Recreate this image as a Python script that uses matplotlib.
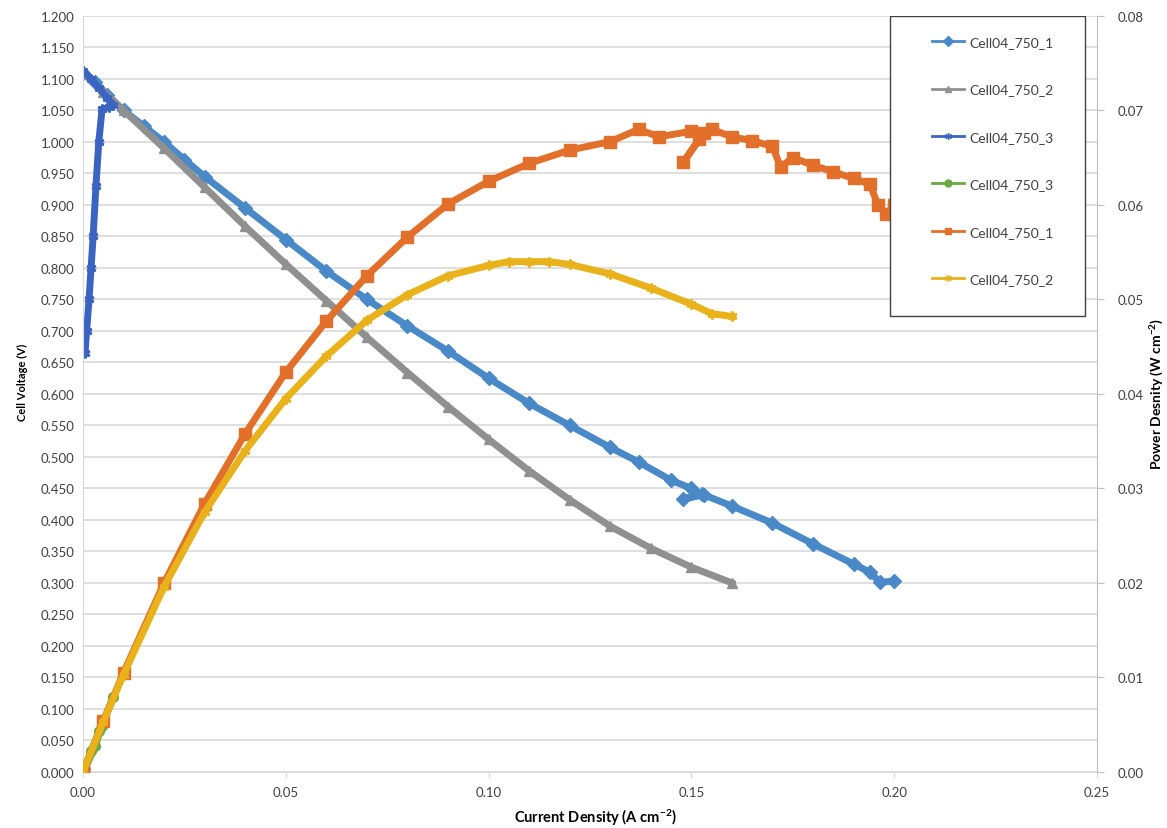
import numpy as np
import matplotlib
matplotlib.use("Agg")
import matplotlib.pyplot as plt
from matplotlib.patches import Rectangle

plt.rcParams['font.family'] = ['Lato', 'DejaVu Sans']
plt.rcParams['mathtext.default'] = 'regular'

# Cell04_750_1 polarisation curve (A cm-2, V)
j1 = [0.000, 0.003, 0.006, 0.010, 0.015, 0.020, 0.025, 0.030, 0.040, 0.050,
      0.060, 0.070, 0.080, 0.090, 0.100, 0.110, 0.120, 0.130, 0.137, 0.145,
      0.150, 0.1525, 0.148, 0.153, 0.160, 0.170, 0.180, 0.190, 0.194, 0.1965, 0.200]
v1 = [1.110, 1.095, 1.075, 1.050, 1.025, 1.000, 0.972, 0.945, 0.895, 0.845,
      0.795, 0.750, 0.708, 0.668, 0.625, 0.585, 0.550, 0.515, 0.492, 0.463,
      0.450, 0.441, 0.433, 0.440, 0.422, 0.395, 0.362, 0.330, 0.317, 0.301, 0.303]

# Cell04_750_2 polarisation curve
j2 = [0.000, 0.005, 0.010, 0.020, 0.030, 0.040, 0.050, 0.060, 0.070, 0.080,
      0.090, 0.100, 0.110, 0.120, 0.130, 0.140, 0.150, 0.160]
v2 = [1.110, 1.080, 1.050, 0.990, 0.928, 0.866, 0.806, 0.748, 0.690, 0.634,
      0.580, 0.528, 0.478, 0.432, 0.390, 0.355, 0.325, 0.300]

# Cell04_750_3 polarisation curve
j3 = [0.0000, 0.0020, 0.0040, 0.0060, 0.0075, 0.0065, 0.0047, 0.0039, 0.0032,
      0.0025, 0.0020, 0.0015, 0.0009, 0.0005]
v3 = [1.112, 1.100, 1.085, 1.070, 1.058, 1.055, 1.052, 1.000, 0.930,
      0.850, 0.800, 0.750, 0.700, 0.665]

# power density curves (A cm-2, W cm-2)
jp3 = [0.0, 0.002, 0.004, 0.0075, 0.0047, 0.0030, 0.0005]
p3 = [0.0, 0.0022, 0.0043, 0.0079, 0.0049, 0.0027, 0.0003]

jp1 = [0.000, 0.005, 0.010, 0.020, 0.030, 0.040, 0.050, 0.060, 0.070, 0.080,
       0.090, 0.100, 0.110, 0.120, 0.130, 0.137, 0.142, 0.150, 0.152, 0.148,
       0.153, 0.155, 0.160, 0.165, 0.170, 0.172, 0.175, 0.180, 0.185, 0.190,
       0.194, 0.196, 0.198, 0.200]
p1 = [0.000, 0.0054, 0.0105, 0.0200, 0.0284, 0.0358, 0.0423, 0.0477, 0.0525, 0.0566,
      0.0601, 0.0625, 0.0644, 0.0658, 0.0667, 0.0680, 0.0672, 0.0678, 0.0670, 0.0645,
      0.0676, 0.0680, 0.0672, 0.0668, 0.0662, 0.0640, 0.0650, 0.0642, 0.0635, 0.0628,
      0.0622, 0.0600, 0.0590, 0.0600]

jp2 = [0.000, 0.005, 0.010, 0.020, 0.030, 0.040, 0.050, 0.060, 0.070, 0.080,
       0.090, 0.100, 0.105, 0.110, 0.115, 0.120, 0.130, 0.140, 0.150, 0.155, 0.160]
p2 = [0.000, 0.0053, 0.0103, 0.0196, 0.0275, 0.0340, 0.0395, 0.0440, 0.0478, 0.0505,
      0.0525, 0.0536, 0.0540, 0.0540, 0.0540, 0.0537, 0.0527, 0.0512, 0.0495, 0.0485, 0.0482]

labels = ["Cell04_750_1", "Cell04_750_2", "Cell04_750_3",
          "Cell04_750_3", "Cell04_750_1", "Cell04_750_2"]

c_blue = '#4a89c8'
c_gray = '#909090'
c_dblue = '#3b63c2'
c_green = '#6aaa40'
c_orange = '#e2702a'
c_yellow = '#e9b21a'
grid_c = '#d9d9d9'
text_c = '#404040'
star = (6, 2, 0)

fig = plt.figure(figsize=(11.67, 8.29), dpi=100)
ax = fig.add_axes([0.0711, 0.0676, 0.8689, 0.912])
ax2 = ax.twinx()

kw = dict(lw=5, ms=7)
h1, = ax.plot(j1, v1, color=c_blue, marker='D', label=labels[0], **kw)
h2, = ax.plot(j2, v2, color=c_gray, marker='^', label=labels[1], **kw)
h3, = ax.plot(j3, v3, color=c_dblue, marker=star, mew=2, label=labels[2], **kw)
h4, = ax2.plot(jp3, p3, color=c_green, marker='o', label=labels[3], **kw)
h5, = ax2.plot(jp1, p1, color=c_orange, marker='s', label=labels[4], lw=5, ms=8)
h6, = ax2.plot(jp2, p2, color=c_yellow, marker=star, mew=2, label=labels[5], **kw)

ax.set_xlim(0, 0.25)
ax.set_ylim(0, 1.2)
ax2.set_ylim(0, 0.08)
ax.set_xticks(np.arange(0, 0.2501, 0.05))
ax.set_yticks(np.arange(0, 1.2001, 0.05))
ax2.set_yticks(np.arange(0, 0.0801, 0.01))
ax.xaxis.set_major_formatter(matplotlib.ticker.FormatStrFormatter('%.2f'))
ax.yaxis.set_major_formatter(matplotlib.ticker.FormatStrFormatter('%.3f'))
ax2.yaxis.set_major_formatter(matplotlib.ticker.FormatStrFormatter('%.2f'))

ax.grid(axis='y', color=grid_c, lw=1.2)
ax.set_axisbelow(True)
for a in (ax, ax2):
    for s in a.spines.values():
        s.set_visible(False)
ax.spines['left'].set_visible(True)
ax.spines['left'].set_color(grid_c)
ax.spines['bottom'].set_visible(True)
ax.spines['bottom'].set_color(grid_c)
ax2.spines['right'].set_visible(True)
ax2.spines['right'].set_color('#bfbfbf')

ax.tick_params(axis='y', length=0, labelsize=9.5, labelcolor=text_c, pad=6)
ax.tick_params(axis='x', length=4, color=grid_c, labelsize=9.5, labelcolor=text_c, pad=6)
ax2.tick_params(axis='y', length=5, color='#bfbfbf', labelsize=9.5, labelcolor=text_c, pad=10)

ax.set_xlabel('Current Density (A cm$^{-2}$)', fontsize=10.5, fontweight='bold', va='center')
ax.set_ylabel('Cell Voltage (V)', fontsize=8, fontweight='bold', va='center')
ax2.set_ylabel('Power Desnity (W cm$^{-2}$)', fontsize=10, fontweight='bold', va='center')
ax.xaxis.set_label_coords(0.505, -0.059)
ax.yaxis.set_label_coords(-0.060, 0.517)
ax2.yaxis.set_label_coords(1.060, 0.501)

# legend box
box = Rectangle((0.796, 0.603), 0.192, 0.397, transform=ax.transAxes,
                facecolor='white', edgecolor='#404040', lw=1.0, zorder=10)
ax2.add_patch(box)
leg = ax2.legend([h1, h2, h3, h4, h5, h6], labels, loc='upper left',
                 bbox_to_anchor=(0.826, 0.988), frameon=False, fontsize=10,
                 labelspacing=2.55, handlelength=2.3, handletextpad=0.4,
                 borderpad=0.3, labelcolor=text_c)
for ln in leg.get_lines():
    ln.set_linewidth(2)
    ln.set_markersize(5)
    ln.set_markeredgewidth(1)
leg.set_zorder(11)

fig.savefig('out.png', dpi=100)
